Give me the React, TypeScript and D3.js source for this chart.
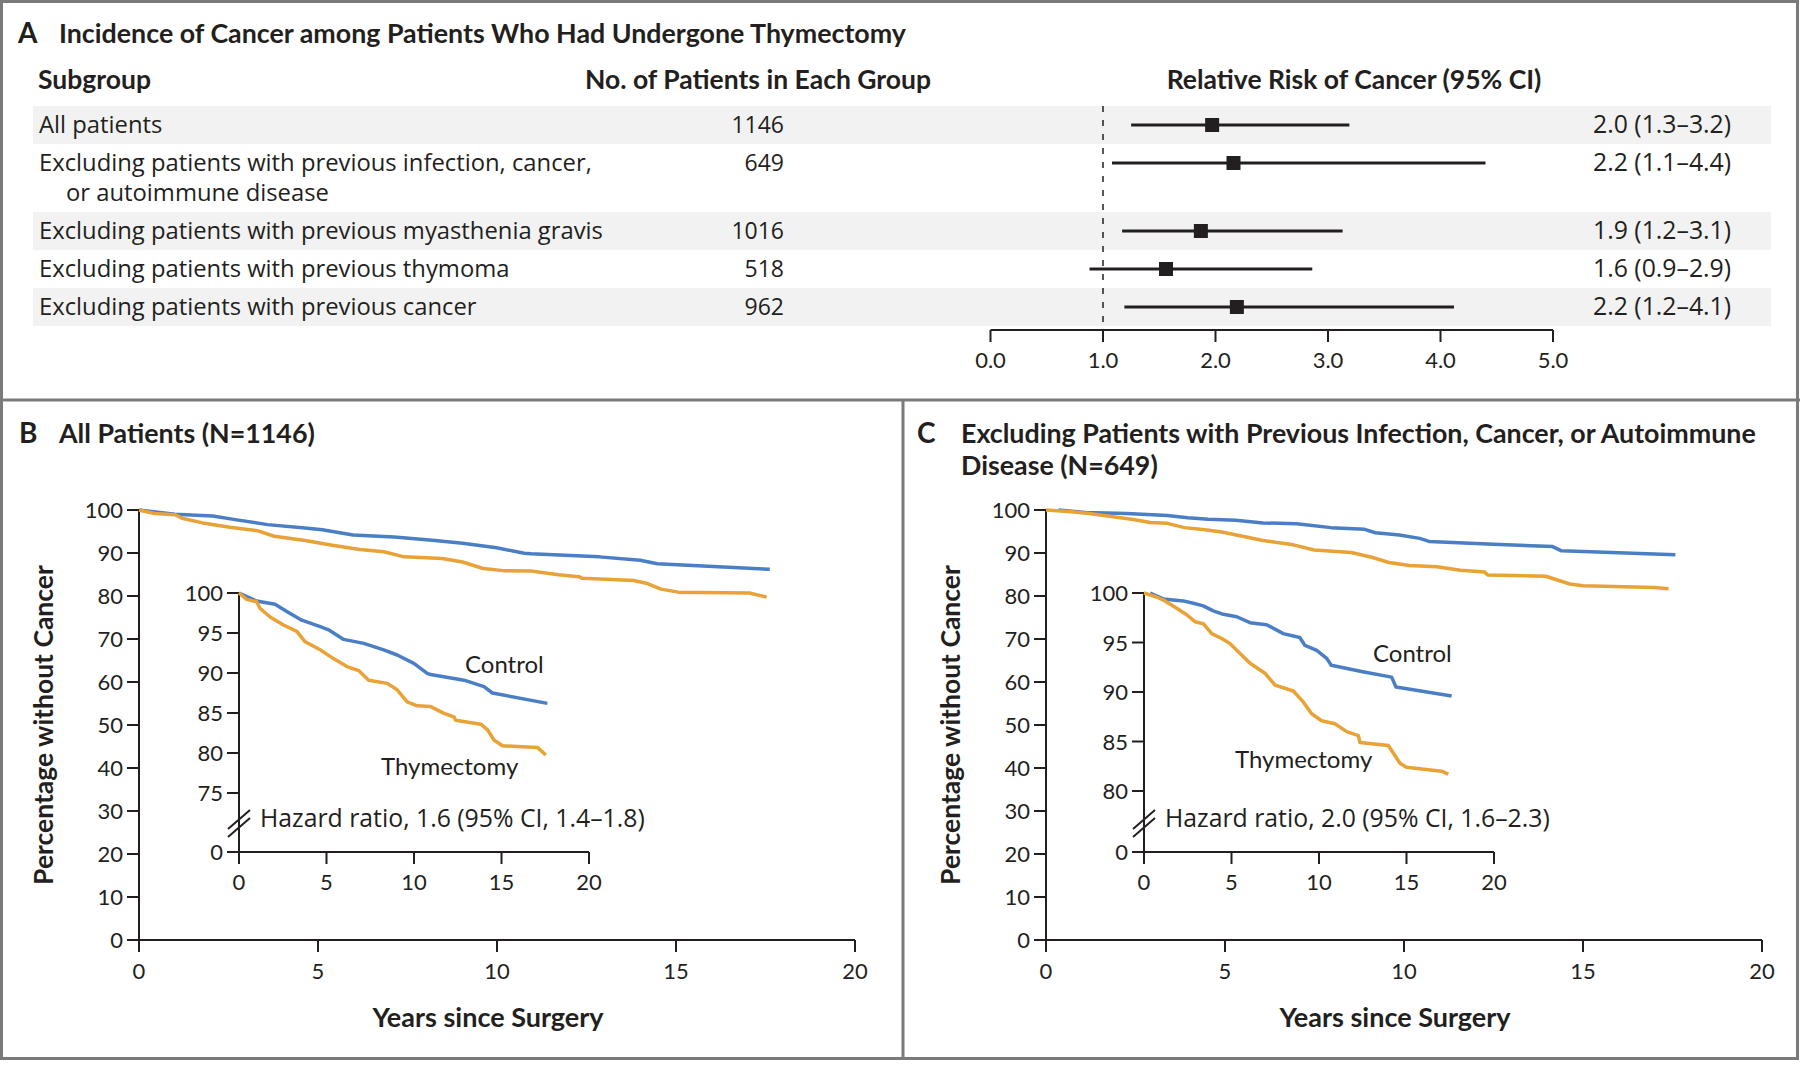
import React from "react";
import * as d3 from "d3";

const BOLD = "Lato, 'Open Sans', sans-serif";
const REG = "'Open Sans', Lato, sans-serif";
const INK = "#231f20";
const BLUE = "#4a7fc6";
const ORANGE = "#e8a236";
const FRAME = "#7a7a7a";
const SHADE = "#f2f2f2";

// ---------- Panel A data ----------
const subgroupLabels: string[][] = [
  ["All patients"],
  ["Excluding patients with previous infection, cancer,", "or autoimmune disease"],
  ["Excluding patients with previous myasthenia gravis"],
  ["Excluding patients with previous thymoma"],
  ["Excluding patients with previous cancer"],
];
const patientCounts = [1146, 649, 1016, 518, 962];
const rrEstimate = [1.97, 2.16, 1.87, 1.56, 2.19];
const rrLower = [1.25, 1.08, 1.17, 0.88, 1.19];
const rrUpper = [3.19, 4.4, 3.13, 2.86, 4.12];
const rrText = ["2.0 (1.3–3.2)", "2.2 (1.1–4.4)", "1.9 (1.2–3.1)", "1.6 (0.9–2.9)", "2.2 (1.2–4.1)"];
const forestTicks = [0, 1, 2, 3, 4, 5];

// ---------- Panel B data (All patients) ----------
const bControlYears = [0, 1.0, 2.06, 2.73, 3.59, 4.64, 5.12, 5.98, 7.13, 8.27, 9.04, 9.99, 10.76, 10.95, 12.86, 14.0, 14.48, 17.62];
const bControlPct = [100, 99.0, 98.6, 97.7, 96.6, 95.8, 95.4, 94.2, 93.7, 92.9, 92.25, 91.2, 89.96, 89.8, 89.1, 88.3, 87.5, 86.2];
const bThymYears = [0, 0.44, 1.01, 1.2, 1.78, 2.54, 3.3, 3.78, 4.64, 5.4, 6.17, 6.84, 7.41, 8.47, 9.04, 9.61, 10.18, 10.95, 11.72, 12.29, 12.38, 13.82, 14.2, 14.58, 15.06, 17.05, 17.53];
const bThymPct = [100, 99.2, 98.9, 98.1, 97.0, 96.0, 95.2, 93.9, 92.9, 91.8, 90.8, 90.3, 89.1, 88.7, 87.9, 86.4, 85.9, 85.8, 84.96, 84.5, 84.1, 83.6, 82.9, 81.6, 80.9, 80.7, 79.75];

// ---------- Panel C data (excluding infection, cancer, autoimmune) ----------
const cControlYears = [0.35, 1.1, 2.25, 2.82, 3.39, 3.96, 4.53, 5.3, 6.06, 7.0, 7.96, 8.9, 9.2, 9.87, 10.44, 10.7, 12.5, 14.15, 14.4, 17.58];
const cControlPct = [100, 99.4, 99.2, 98.96, 98.7, 98.2, 97.85, 97.6, 97.0, 96.8, 95.9, 95.5, 94.7, 94.2, 93.4, 92.7, 92.05, 91.5, 90.5, 89.6];
const cThymYears = [0, 0.72, 1.2, 1.87, 2.44, 2.91, 3.39, 3.87, 4.44, 4.91, 5.49, 6.06, 6.91, 7.49, 8.53, 9.1, 9.58, 10.15, 10.91, 11.58, 12.25, 12.34, 13.96, 14.63, 15.0, 17.0, 17.39];
const cThymPct = [100, 99.6, 99.2, 98.45, 97.8, 97.1, 96.9, 95.9, 95.4, 94.9, 93.9, 92.9, 91.9, 90.7, 90.1, 89.0, 87.8, 87.1, 86.8, 86.0, 85.6, 84.9, 84.6, 82.8, 82.4, 82.0, 81.7];

const mainXTicks = [0, 5, 10, 15, 20];
const mainYTicks = [0, 10, 20, 30, 40, 50, 60, 70, 80, 90, 100];
const insetXTicks = [0, 5, 10, 15, 20];
const bInsetYTicks = [75, 80, 85, 90, 95, 100];
const cInsetYTicks = [80, 85, 90, 95, 100];

const zip = (xs: number[], ys: number[]): [number, number][] => xs.map((x, i) => [x, ys[i]]);

// ---------- Forest plot ----------
function ForestPanel() {
  const x = d3.scaleLinear().domain([0, 5]).range([990.5, 1553]);
  const rowTop0 = 106;
  const baseH = 38;
  const extraLine = 30;
  const tops: number[] = [];
  const heights: number[] = [];
  let t = rowTop0;
  subgroupLabels.forEach((lines) => {
    tops.push(t);
    const h = baseH + (lines.length - 1) * extraLine;
    heights.push(h);
    t += h;
  });
  const axisY = 330;
  return (
    <g>
      <text x={18} y={43} fontSize={28} fontWeight={700} fontFamily={BOLD} fill={INK}>A</text>
      <text x={59} y={43} fontSize={26.8} fontWeight={700} fontFamily={BOLD} fill={INK}>
        Incidence of Cancer among Patients Who Had Undergone Thymectomy
      </text>
      <text x={38} y={89} fontSize={26.5} fontWeight={700} fontFamily={BOLD} fill={INK}>Subgroup</text>
      <text x={758} y={89} fontSize={26.5} fontWeight={700} fontFamily={BOLD} fill={INK} textAnchor="middle">
        No. of Patients in Each Group
      </text>
      <text x={1354} y={89} fontSize={26.5} fontWeight={700} fontFamily={BOLD} fill={INK} textAnchor="middle">
        Relative Risk of Cancer (95% CI)
      </text>
      {subgroupLabels.map((_, i) =>
        i % 2 === 0 ? (
          <rect key={"s" + i} x={33} y={tops[i]} width={1771 - 33} height={heights[i]} fill={SHADE} />
        ) : null
      )}
      <line x1={x(1)} x2={x(1)} y1={rowTop0} y2={axisY} stroke={INK} strokeWidth={1.5} strokeDasharray="6 8" />
      {subgroupLabels.map((lines, i) => {
        const cy = tops[i] + baseH / 2;
        return (
          <g key={"r" + i} fontFamily={REG}>
            {lines.map((ln, j) => (
              <text key={j} x={j === 0 ? 39 : 66} y={cy + 8 + j * extraLine} fontSize={23.8} fill={INK}>
                {ln}
              </text>
            ))}
            <text x={784} y={cy + 8} fontSize={23} fill={INK} textAnchor="end">{patientCounts[i]}</text>
            <line x1={x(rrLower[i])} x2={x(rrUpper[i])} y1={cy} y2={cy} stroke={INK} strokeWidth={3} />
            <rect x={x(rrEstimate[i]) - 7} y={cy - 7} width={14} height={14} fill={INK} />
            <text x={1593} y={cy + 8} fontSize={24.8} fill={INK}>{rrText[i]}</text>
          </g>
        );
      })}
      <line x1={x(0)} x2={x(5)} y1={axisY} y2={axisY} stroke={INK} strokeWidth={2} />
      {forestTicks.map((v) => (
        <g key={"ft" + v}>
          <line x1={x(v)} x2={x(v)} y1={axisY} y2={axisY + 12} stroke={INK} strokeWidth={2} />
          <text x={x(v)} y={368} fontSize={22} fontFamily={BOLD} fill={INK} textAnchor="middle">{v.toFixed(1)}</text>
        </g>
      ))}
    </g>
  );
}

// ---------- KM panel ----------
type KMProps = {
  x0: number;
  xi: number;
  insetMin: number;
  insetMinY: number;
  insetTicks: number[];
  control: [number, number][];
  thym: [number, number][];
  controlLabel: [number, number];
  thymLabel: [number, number];
  hazardX: number;
  hazardText: string;
};

function KMPanel(p: KMProps) {
  const xM = d3.scaleLinear().domain([0, 20]).range([p.x0, p.x0 + 716]);
  const yM = d3.scaleLinear().domain([0, 100]).range([940, 510]);
  const xI = d3.scaleLinear().domain([0, 20]).range([p.xi, p.xi + 350]);
  const yI = d3.scaleLinear().domain([p.insetMin, 100]).range([p.insetMinY, 593]);
  const yZero = 852;
  const lineM = d3.line<[number, number]>().x((d) => xM(d[0])).y((d) => yM(d[1]));
  const lineI = d3.line<[number, number]>().x((d) => xI(d[0])).y((d) => yI(d[1]));
  const tick = 12;
  return (
    <g fontFamily={BOLD}>
      {/* main axes */}
      <line x1={p.x0} x2={p.x0} y1={yM(100)} y2={yM(0)} stroke={INK} strokeWidth={2} />
      <line x1={p.x0} x2={xM(20)} y1={yM(0)} y2={yM(0)} stroke={INK} strokeWidth={2} />
      {mainYTicks.map((v) => (
        <g key={"my" + v}>
          <line x1={p.x0 - tick} x2={p.x0} y1={yM(v)} y2={yM(v)} stroke={INK} strokeWidth={2} />
          <text x={p.x0 - 16} y={yM(v) + 8} fontSize={22} fill={INK} textAnchor="end">{v}</text>
        </g>
      ))}
      {mainXTicks.map((v) => (
        <g key={"mx" + v}>
          <line x1={xM(v)} x2={xM(v)} y1={yM(0)} y2={yM(0) + tick} stroke={INK} strokeWidth={2} />
          <text x={xM(v)} y={979} fontSize={22} fill={INK} textAnchor="middle">{v}</text>
        </g>
      ))}
      <text x={(xM(0) + xM(20)) / 2 - 9} y={1027} fontSize={27} fontWeight={700} fill={INK} textAnchor="middle">
        Years since Surgery
      </text>
      <text
        transform={`translate(${p.x0 - 86},725) rotate(-90)`}
        fontSize={26.5}
        fontWeight={700}
        fill={INK}
        textAnchor="middle"
      >
        Percentage without Cancer
      </text>
      <path d={lineM(p.control) || ""} fill="none" stroke={BLUE} strokeWidth={3.5} strokeLinejoin="round" />
      <path d={lineM(p.thym) || ""} fill="none" stroke={ORANGE} strokeWidth={3.5} strokeLinejoin="round" />

      {/* inset axes */}
      <line x1={p.xi} x2={p.xi} y1={yI(100)} y2={yZero} stroke={INK} strokeWidth={2} />
      <line x1={p.xi} x2={xI(20)} y1={yZero} y2={yZero} stroke={INK} strokeWidth={2} />
      {p.insetTicks.map((v) => (
        <g key={"iy" + v}>
          <line x1={p.xi - tick} x2={p.xi} y1={yI(v)} y2={yI(v)} stroke={INK} strokeWidth={2} />
          <text x={p.xi - 16} y={yI(v) + 8} fontSize={22} fill={INK} textAnchor="end">{v}</text>
        </g>
      ))}
      <line x1={p.xi - tick} x2={p.xi} y1={yZero} y2={yZero} stroke={INK} strokeWidth={2} />
      <text x={p.xi - 16} y={yZero + 8} fontSize={22} fill={INK} textAnchor="end">0</text>
      {/* break marks */}
      <line x1={p.xi - 11} x2={p.xi + 11} y1={829} y2={810} stroke={INK} strokeWidth={2} />
      <line x1={p.xi - 11} x2={p.xi + 11} y1={837} y2={818} stroke={INK} strokeWidth={2} />
      {insetXTicks.map((v) => (
        <g key={"ix" + v}>
          <line x1={xI(v)} x2={xI(v)} y1={yZero} y2={yZero + tick} stroke={INK} strokeWidth={2} />
          <text x={xI(v)} y={890} fontSize={22} fill={INK} textAnchor="middle">{v}</text>
        </g>
      ))}
      <path d={lineI(p.control) || ""} fill="none" stroke={BLUE} strokeWidth={3.5} strokeLinejoin="round" />
      <path d={lineI(p.thym) || ""} fill="none" stroke={ORANGE} strokeWidth={3.5} strokeLinejoin="round" />
      <text x={p.controlLabel[0]} y={p.controlLabel[1]} fontSize={24} fill={INK}>Control</text>
      <text x={p.thymLabel[0]} y={p.thymLabel[1]} fontSize={24} fill={INK}>Thymectomy</text>
      <text x={p.hazardX} y={827} fontSize={24.8} fontFamily={REG} fill={INK}>{p.hazardText}</text>
    </g>
  );
}

export default function App() {
  return (
    <svg
      width={1800}
      height={1066}
      viewBox="0 0 1800 1066"
      style={{ position: "absolute", left: 0, top: 0, background: "#fff" }}
      fontFamily={BOLD}
    >
      <rect x={0} y={0} width={1800} height={1066} fill="#fff" />
      {/* frame */}
      <rect x={1.5} y={1.5} width={1796} height={1057} fill="none" stroke={FRAME} strokeWidth={3} />
      <line x1={0} x2={1800} y1={400} y2={400} stroke={FRAME} strokeWidth={3} />
      <line x1={903} x2={903} y1={400} y2={1059} stroke={FRAME} strokeWidth={3} />

      <ForestPanel />

      {/* Panel B */}
      <text x={19} y={443} fontSize={28} fontWeight={700} fill={INK}>B</text>
      <text x={59} y={443} fontSize={26.8} fontWeight={700} fill={INK}>All Patients (N=1146)</text>
      <KMPanel
        x0={139}
        xi={239}
        insetMin={75}
        insetMinY={793}
        insetTicks={bInsetYTicks}
        control={zip(bControlYears, bControlPct)}
        thym={zip(bThymYears, bThymPct)}
        controlLabel={[465, 673]}
        thymLabel={[381, 775]}
        hazardX={260}
        hazardText="Hazard ratio, 1.6 (95% CI, 1.4–1.8)"
      />

      {/* Panel C */}
      <text x={917} y={443} fontSize={28} fontWeight={700} fill={INK}>C</text>
      <text x={961} y={443} fontSize={26.8} fontWeight={700} fill={INK}>
        Excluding Patients with Previous Infection, Cancer, or Autoimmune
      </text>
      <text x={961} y={475} fontSize={26.8} fontWeight={700} fill={INK}>Disease (N=649)</text>
      <KMPanel
        x0={1046}
        xi={1144}
        insetMin={80}
        insetMinY={791}
        insetTicks={cInsetYTicks}
        control={zip(cControlYears, cControlPct)}
        thym={zip(cThymYears, cThymPct)}
        controlLabel={[1373, 662]}
        thymLabel={[1235, 768]}
        hazardX={1165}
        hazardText="Hazard ratio, 2.0 (95% CI, 1.6–2.3)"
      />
    </svg>
  );
}
